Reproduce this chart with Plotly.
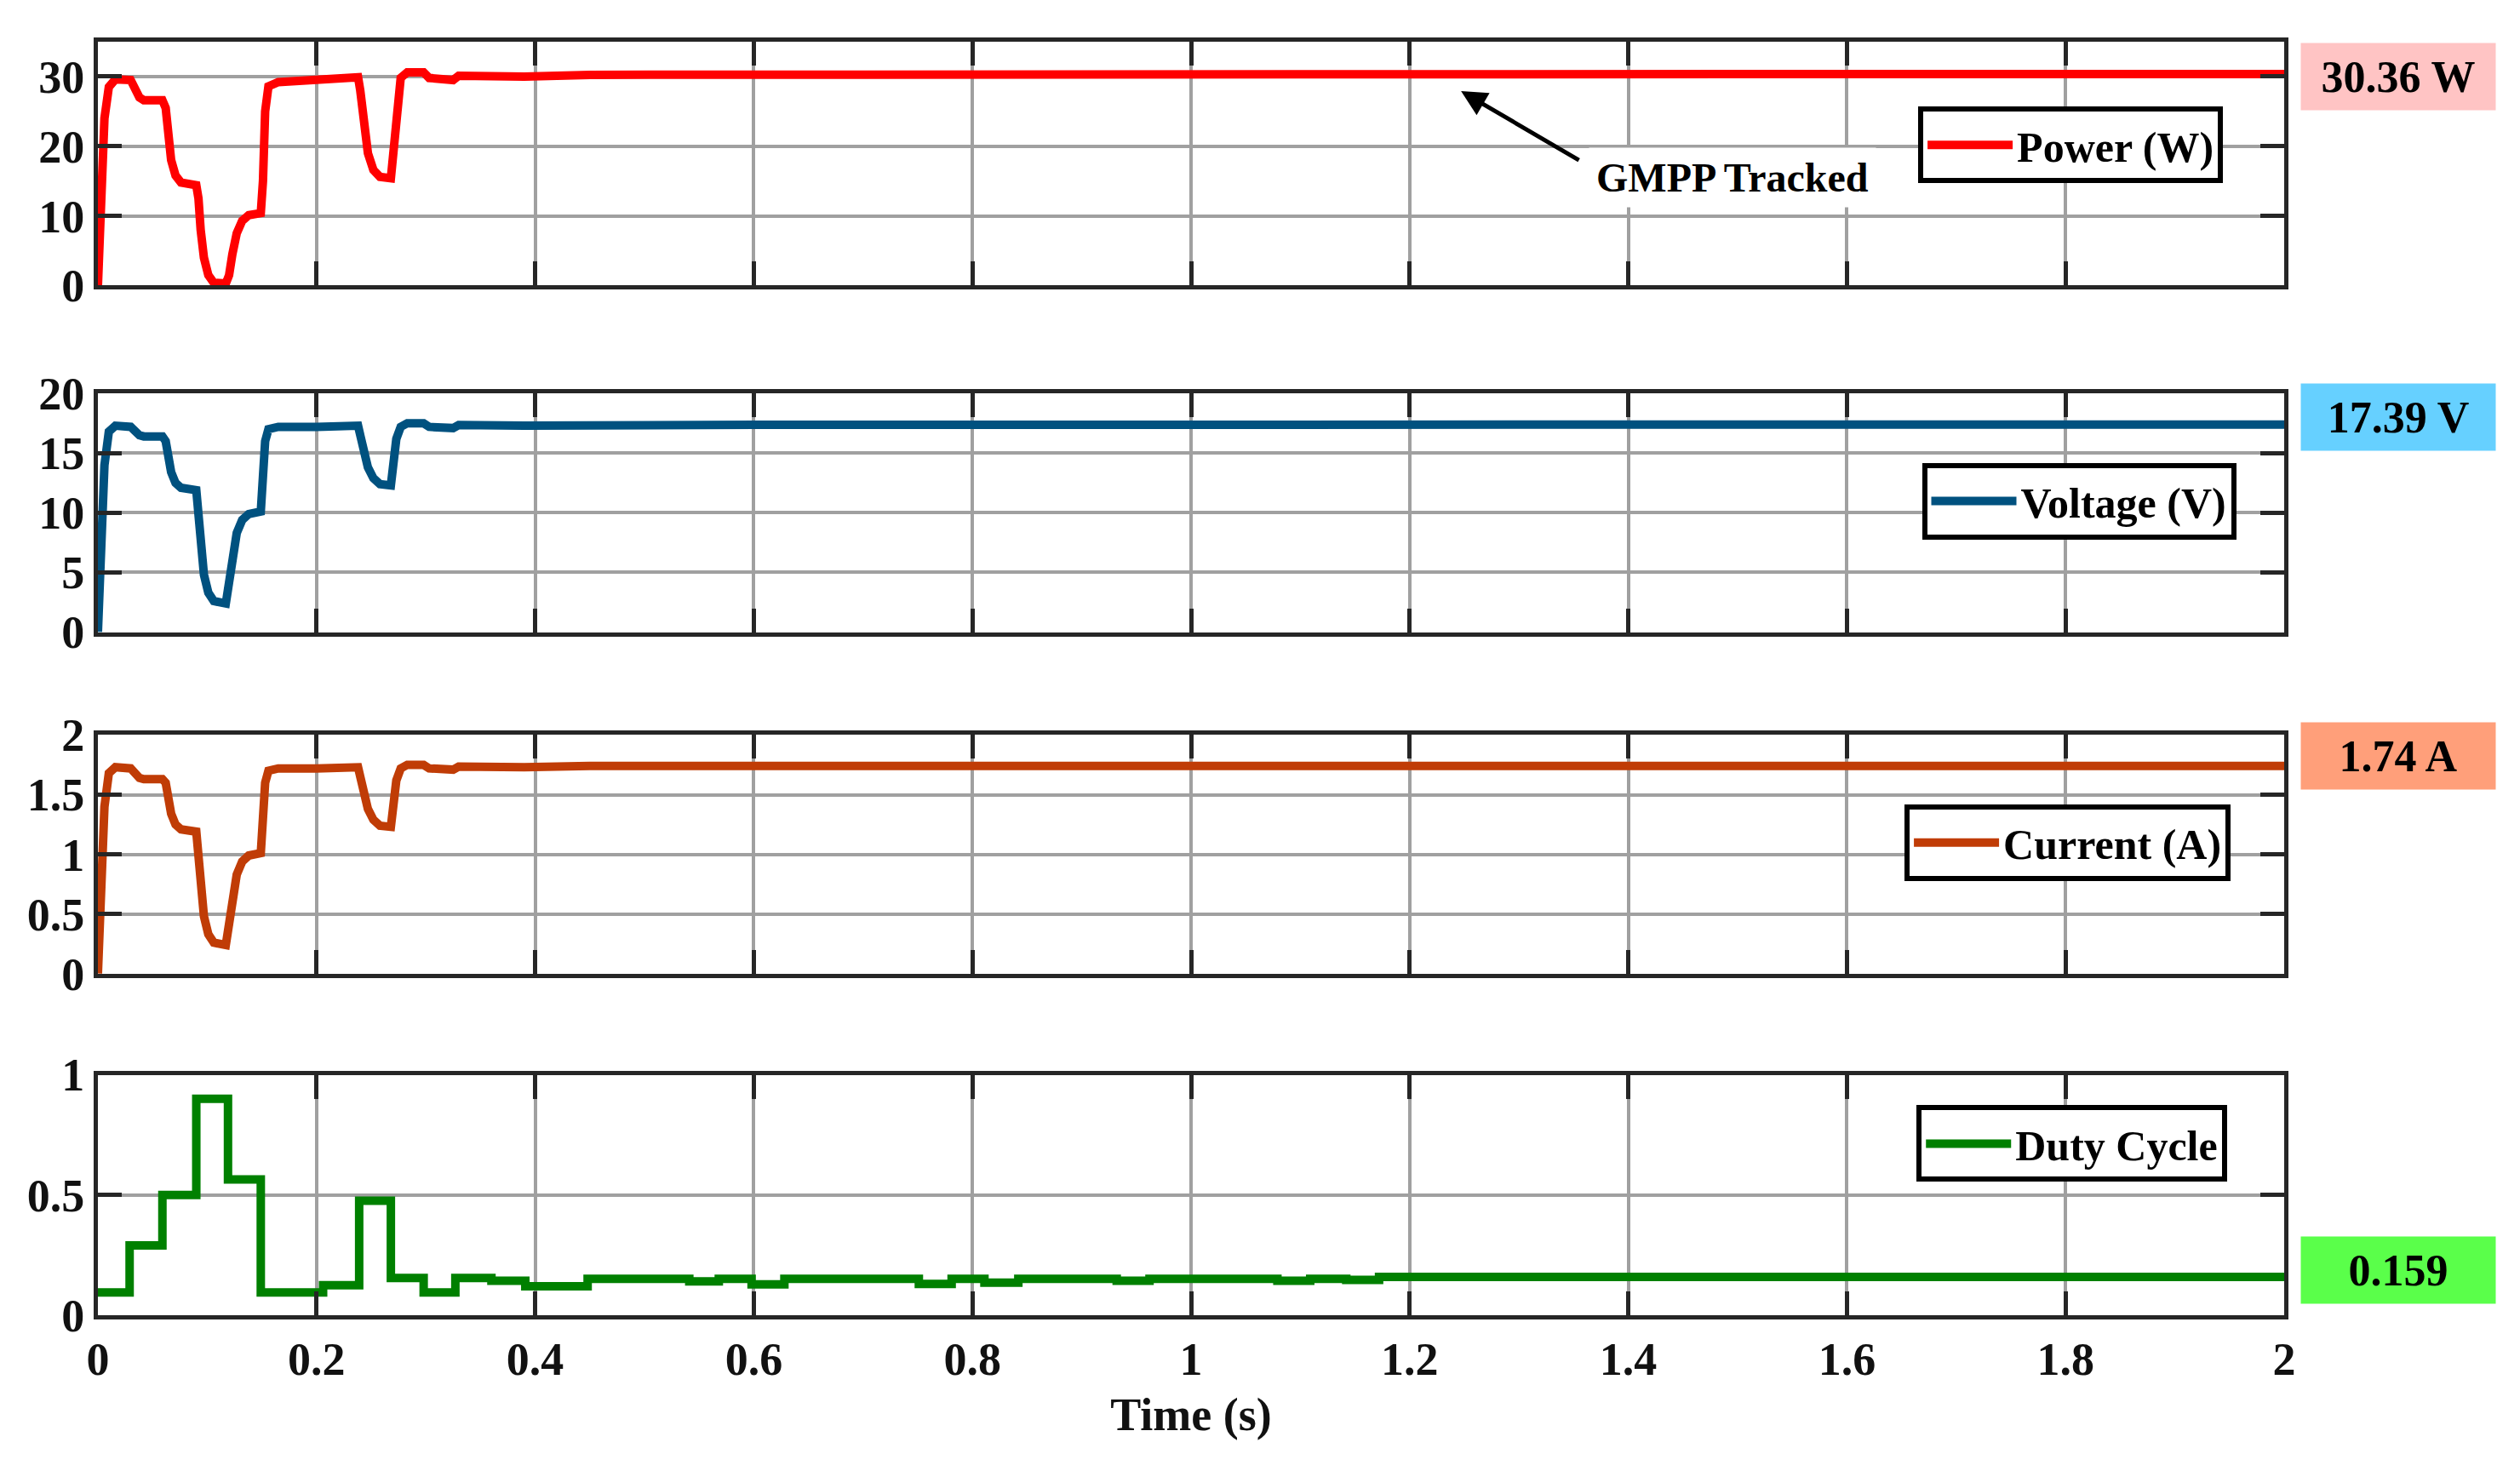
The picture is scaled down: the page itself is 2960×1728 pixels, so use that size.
import plotly.graph_objects as go

# ---------------- data ----------------
time_s = [0, 0.003, 0.006, 0.010, 0.016, 0.030, 0.034, 0.038, 0.042, 0.059, 0.062, 0.064,
          0.067, 0.071, 0.076, 0.090, 0.092, 0.094, 0.097, 0.101, 0.106, 0.117, 0.120, 0.123,
          0.127, 0.132, 0.138, 0.149, 0.151, 0.153, 0.156, 0.165, 0.200, 0.238, 0.240, 0.243,
          0.247, 0.252, 0.258, 0.268, 0.270, 0.273, 0.277, 0.283, 0.298, 0.303, 0.325, 0.330,
          0.390, 0.450, 0.600, 0.800, 1.000, 1.200, 1.400, 1.600, 1.800, 2.000]

power_w = [0, 12, 24, 28.5, 29.6, 29.5, 28.0, 27.0, 26.6, 26.6, 25.5, 22,
           18, 15.8, 14.8, 14.4, 12.5, 8, 4, 1.5, 0.4, 0.3, 1.5, 4.5,
           7.5, 9.3, 10.1, 10.4, 15, 25, 28.6, 29.2, 29.4, 29.9, 28, 23,
           19, 16.6, 15.6, 15.4, 19, 26, 29.8, 30.6, 30.6, 29.8, 29.5, 30.1,
           30.0, 30.25, 30.3, 30.3, 30.35, 30.35, 30.36, 30.36, 30.36, 30.36]

voltage_v = [0, 7, 14, 16.8, 17.3, 17.2, 16.8, 16.5, 16.4, 16.4, 16.0, 14.8,
             13.4, 12.5, 12.1, 11.9, 10, 7, 4.8, 3.3, 2.6, 2.4, 4, 6.5,
             8.3, 9.4, 9.9, 10.1, 13, 16, 17.0, 17.2, 17.2, 17.3, 16.5, 15.2,
             13.8, 12.9, 12.4, 12.3, 14, 16.2, 17.2, 17.5, 17.5, 17.2, 17.1, 17.35,
             17.3, 17.37, 17.38, 17.38, 17.39, 17.39, 17.39, 17.39, 17.39, 17.39]

current_a = [0, 0.7, 1.4, 1.68, 1.73, 1.72, 1.68, 1.64, 1.63, 1.63, 1.60, 1.48,
             1.34, 1.25, 1.21, 1.19, 1.0, 0.7, 0.48, 0.33, 0.26, 0.24, 0.4, 0.65,
             0.83, 0.94, 0.99, 1.01, 1.3, 1.6, 1.70, 1.72, 1.72, 1.73, 1.65, 1.52,
             1.38, 1.29, 1.24, 1.23, 1.4, 1.62, 1.72, 1.75, 1.75, 1.72, 1.71, 1.735,
             1.73, 1.74, 1.74, 1.74, 1.74, 1.74, 1.74, 1.74, 1.74, 1.74]

duty_time = [0, 0.029, 0.059, 0.090, 0.119, 0.149, 0.206, 0.239, 0.268, 0.298, 0.327, 0.360,
             0.391, 0.448, 0.541, 0.568, 0.598, 0.628, 0.751, 0.781, 0.811, 0.842, 0.932,
             0.962, 1.079, 1.109, 1.142, 1.172, 2.0]
duty_cycle = [0.095, 0.29, 0.50, 0.90, 0.565, 0.095, 0.125, 0.476, 0.155, 0.095, 0.155, 0.143,
              0.12, 0.151, 0.141, 0.151, 0.128, 0.151, 0.13, 0.151, 0.135, 0.151, 0.143,
              0.151, 0.143, 0.151, 0.147, 0.159, 0.159]

x_ticks = [0, 0.2, 0.4, 0.6, 0.8, 1, 1.2, 1.4, 1.6, 1.8, 2]
x_tick_text = ["0", "0.2", "0.4", "0.6", "0.8", "1", "1.2", "1.4", "1.6", "1.8", "2"]
p_ticks = [0, 10, 20, 30]
v_ticks = [0, 5, 10, 15, 20]
i_ticks = [0, 0.5, 1, 1.5, 2]
i_tick_text = ["0", "0.5", "1", "1.5", "2"]
d_ticks = [0, 0.5, 1]
d_tick_text = ["0", "0.5", "1"]

final_labels = ["30.36 W", "17.39 V", "1.74 A", "0.159"]

# ---------------- style ----------------
FONT = "Liberation Serif"
AX = "#262626"
GRID = "#a0a0a0"
LW = 10

fig = go.Figure()

fig.add_trace(go.Scatter(x=time_s, y=power_w, mode="lines", name="<b>Power (W)</b>",
                         line=dict(color="#ff0000", width=LW), xaxis="x", yaxis="y",
                         legend="legend"))
fig.add_trace(go.Scatter(x=time_s, y=voltage_v, mode="lines", name="<b>Voltage (V)</b>",
                         line=dict(color="#00517f", width=LW), xaxis="x2", yaxis="y2",
                         legend="legend2"))
fig.add_trace(go.Scatter(x=time_s, y=current_a, mode="lines", name="<b>Current (A)</b>",
                         line=dict(color="#c03c06", width=LW), xaxis="x3", yaxis="y3",
                         legend="legend3"))
fig.add_trace(go.Scatter(x=duty_time, y=duty_cycle, mode="lines", name="<b>Duty Cycle</b>",
                         line=dict(color="#008000", width=LW, shape="hv"), xaxis="x4", yaxis="y4",
                         legend="legend4"))

domains = [[0.8085, 1.0], [0.5364, 0.7238], [0.2682, 0.4556], [0.0, 0.1888]]
yranges = [[0, 35], [0, 20], [0, 2], [0, 1]]
yticks = [(p_ticks, [str(v) for v in p_ticks]), (v_ticks, [str(v) for v in v_ticks]),
          (i_ticks, i_tick_text), (d_ticks, d_tick_text)]

common = dict(showline=True, linewidth=5, linecolor=AX, mirror="ticks",
              ticks="inside", ticklen=28, tickwidth=5, tickcolor=AX,
              showgrid=True, gridcolor=GRID, gridwidth=4, zeroline=False,
              tickfont=dict(family=FONT, size=54, color="#111"))

layout = dict(width=2960, height=1728, paper_bgcolor="white", plot_bgcolor="white",
              margin=dict(l=107, r=285, t=38, b=191), showlegend=True)

for k in range(4):
    xs = "" if k == 0 else str(k + 1)
    xa = dict(common, domain=[0, 1], range=[0, 2], tickvals=x_ticks, ticktext=x_tick_text,
              anchor="y" + xs, showticklabels=(k == 3))
    if k == 3:
        xa["title"] = dict(text="<b>Time (s)</b>", font=dict(family=FONT, size=54, color="#111"),
                           standoff=18)
    ya = dict(common, domain=domains[k], range=yranges[k], tickvals=yticks[k][0],
              ticktext=["<b>%s</b>" % t for t in yticks[k][1]], anchor="x" + xs)
    layout["xaxis" + xs] = xa
    layout["yaxis" + xs] = ya
layout["xaxis4"]["ticktext"] = ["<b>%s</b>" % t for t in x_tick_text]

leg_common = dict(bgcolor="white", bordercolor="black", borderwidth=6,
                  font=dict(family=FONT, size=50, color="black"),
                  xanchor="right", yanchor="top", itemwidth=100)
layout["legend"] = dict(leg_common, x=0.972, y=0.949)
layout["legend2"] = dict(leg_common, x=0.978, y=0.6694)
layout["legend3"] = dict(leg_common, x=0.9755, y=0.4013)
layout["legend4"] = dict(leg_common, x=0.974, y=0.1648)

fig.update_layout(**layout)

# final value boxes
box_colors = ["#ffc4c4", "#66d0ff", "#ff9f7a", "#5aff4a"]
box_y = [0.9726, 0.7051, 0.439, 0.0354]
for lab, col, yy in zip(final_labels, box_colors, box_y):
    fig.add_annotation(x=1.052, y=yy, xref="paper", yref="paper", xanchor="center",
                       yanchor="middle", text="<b>%s</b>" % lab,
                       showarrow=False, bgcolor=col, width=222, height=72, borderpad=3,
                       font=dict(family=FONT, size=52, color="black"))

# GMPP arrow and label
fig.add_annotation(x=1.247, y=27.9, xref="x", yref="y", ax=1.356, ay=17.9, axref="x", ayref="y",
                   text="", showarrow=True, arrowhead=2, arrowsize=1.2, arrowwidth=5,
                   arrowcolor="black")
fig.add_annotation(x=1.495, y=15.5, xref="x", yref="y", text="<b>GMPP Tracked</b>",
                   showarrow=False, bgcolor="white", borderpad=8,
                   font=dict(family=FONT, size=48, color="black"))

fig.write_html("out.html")
